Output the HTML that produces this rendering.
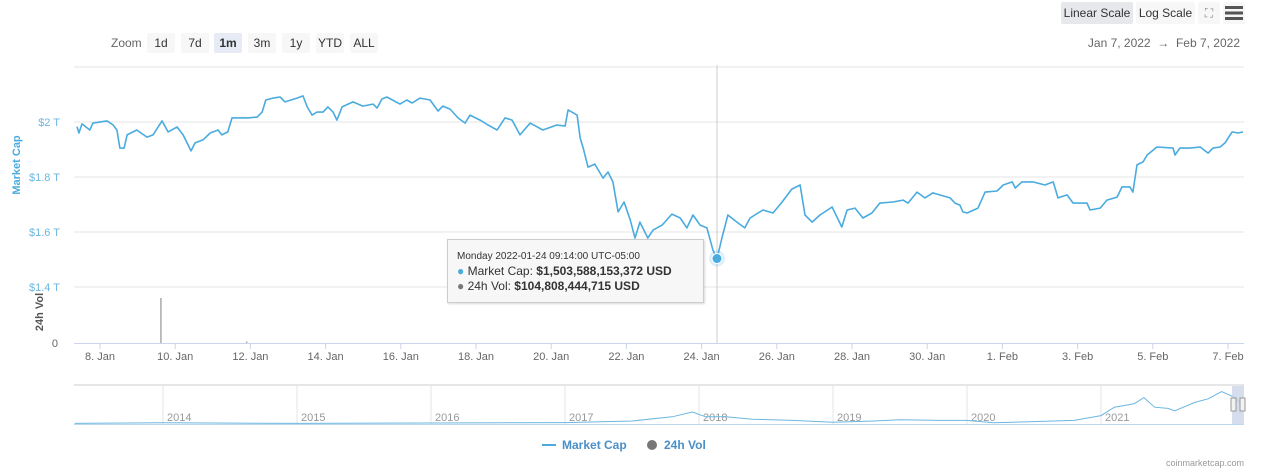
<!DOCTYPE html>
<html><head><meta charset="utf-8"><style>
body{margin:0;background:#fff;font-family:"Liberation Sans",sans-serif;}
#wrap{position:relative;width:1280px;height:475px;overflow:hidden;}
.btn{position:absolute;top:33px;height:20px;line-height:20px;font-size:12px;color:#333;background:#f7f7f7;text-align:center;border-radius:2px;}
.tb{position:absolute;top:2px;height:22px;line-height:22px;font-size:12px;color:#333;background:#f7f7f7;text-align:center;border-radius:2px;}
</style></head><body><div id="wrap">
<div style="position:absolute;left:111px;top:33px;line-height:20px;font-size:12px;color:#666">Zoom</div>
<div class="btn" style="left:147px;width:28px">1d</div>
<div class="btn" style="left:181px;width:28px">7d</div>
<div class="btn" style="left:214px;width:28px;background:#e6ebf5;font-weight:bold">1m</div>
<div class="btn" style="left:248px;width:28px">3m</div>
<div class="btn" style="left:282px;width:28px">1y</div>
<div class="btn" style="left:316px;width:28px">YTD</div>
<div class="btn" style="left:350px;width:28px">ALL</div>
<div style="position:absolute;right:40px;top:33px;line-height:20px;font-size:12px;color:#666">Jan 7, 2022 &nbsp;→&nbsp; Feb 7, 2022</div>
<div class="tb" style="left:1061px;width:72px;background:#e6e8ec">Linear Scale</div>
<div class="tb" style="left:1136px;width:59px">Log Scale</div>
<div class="tb" style="left:1198px;width:22px;color:#888">⛶</div>
<div class="tb" style="left:1223px;width:22px"><svg width="18" height="14" style="margin-top:4px"><rect y="0" width="18" height="3" fill="#555"/><rect y="5.5" width="18" height="3" fill="#555"/><rect y="11" width="18" height="3" fill="#555"/></svg></div>
<svg id="svg" width="1280" height="475" style="position:absolute;left:0;top:0;pointer-events:none" font-family="Liberation Sans, sans-serif"></svg>
<div style="position:absolute;left:447px;top:239px;width:255px;height:62px;background:#f7f7f7;border:1px solid #ccc;box-shadow:1px 1px 2px rgba(0,0,0,.15);font-size:12px;color:#333">
<div style="position:absolute;left:9px;top:11px;font-size:10px">Monday 2022-01-24 09:14:00 UTC-05:00</div>
<div style="position:absolute;left:9px;top:24px"><span style="color:#4aabdf">●</span> Market Cap: <b>$1,503,588,153,372 USD</b></div>
<div style="position:absolute;left:9px;top:39px"><span style="color:#777">●</span> 24h Vol: <b>$104,808,444,715 USD</b></div>
</div>
</div>
<script>
const times=[0.388,0.44,0.52,0.73,0.81,1.19,1.35,1.45,1.53,1.64,1.72,1.98,2.25,2.41,2.65,2.81,3.05,3.21,3.42,3.53,3.74,3.93,4.14,4.24,4.40,4.51,4.64,4.91,5.18,5.31,5.41,5.60,5.79,5.92,6.24,6.40,6.51,6.64,6.77,6.93,7.06,7.20,7.30,7.44,7.73,7.99,8.26,8.37,8.50,8.63,8.98,9.16,9.30,9.51,9.78,9.99,10.12,10.31,10.52,10.71,10.84,11.11,11.32,11.56,11.77,11.96,12.17,12.44,12.78,13.15,13.37,13.45,13.69,13.77,13.85,13.98,14.16,14.38,14.51,14.64,14.78,14.94,15.10,15.23,15.36,15.57,15.71,15.95,16.21,16.43,16.61,16.77,16.96,17.14,17.30,17.41,17.54,17.70,17.94,18.15,18.29,18.63,18.90,19.14,19.40,19.62,19.75,19.94,20.15,20.47,20.73,20.87,21.08,21.29,21.53,21.74,22.09,22.36,22.49,22.73,22.94,23.15,23.61,23.74,23.87,23.95,24.06,24.35,24.54,24.86,25.02,25.26,25.34,25.52,25.81,26.13,26.35,26.48,26.72,26.88,27.25,27.33,27.60,27.78,28.05,28.18,28.39,28.47,28.58,28.74,28.85,29.11,29.54,29.59,29.72,29.99,30.26,30.47,30.60,30.79,30.92,31.11,31.27,31.40];
const marketCap=[1.983,1.960,1.993,1.971,1.996,2.004,1.989,1.971,1.905,1.905,1.953,1.971,1.945,1.953,2.004,1.964,1.982,1.953,1.895,1.924,1.935,1.960,1.971,1.953,1.964,2.015,2.015,2.015,2.018,2.036,2.080,2.087,2.091,2.073,2.087,2.095,2.055,2.025,2.036,2.036,2.055,2.036,2.007,2.055,2.073,2.058,2.065,2.051,2.084,2.091,2.065,2.080,2.069,2.087,2.080,2.040,2.058,2.047,2.015,1.996,2.025,2.007,1.989,1.971,2.015,2.007,1.953,1.996,1.971,1.989,1.985,2.044,2.025,1.942,1.905,1.836,1.847,1.796,1.818,1.782,1.673,1.709,1.644,1.578,1.636,1.578,1.607,1.625,1.665,1.651,1.615,1.662,1.625,1.615,1.535,1.502,1.578,1.662,1.636,1.615,1.651,1.680,1.669,1.709,1.756,1.771,1.662,1.636,1.662,1.691,1.618,1.680,1.687,1.651,1.669,1.705,1.709,1.716,1.705,1.745,1.724,1.742,1.724,1.705,1.698,1.673,1.669,1.687,1.745,1.749,1.771,1.782,1.760,1.782,1.782,1.771,1.782,1.724,1.735,1.705,1.705,1.680,1.687,1.716,1.727,1.764,1.764,1.745,1.844,1.855,1.880,1.909,1.905,1.880,1.905,1.905,1.909,1.887,1.905,1.909,1.924,1.964,1.960,1.964];
const volTimes=[2.62,4.90];
const volValues=[600,20];
const yTicks=[1.4,1.6,1.8,2.0,2.2];
const yTickLabels=["$1.4 T","$1.6 T","$1.8 T","$2 T",""];
const xTickDays=[1,3,5,7,9,11,13,15,17,19,21,23,25,27,29,31];
const xTickLabels=["8. Jan","10. Jan","12. Jan","14. Jan","16. Jan","18. Jan","20. Jan","22. Jan","24. Jan","26. Jan","28. Jan","30. Jan","1. Feb","3. Feb","5. Feb","7. Feb"];
const navYearLabels=["2014","2015","2016","2017","2018","2019","2020","2021"];
const navYearValues=[2014,2015,2016,2017,2018,2019,2020,2021];
const navTimes=[2013.34,2014,2015,2016,2017,2017.5,2017.8,2017.95,2018.05,2018.2,2018.4,2018.7,2019,2019.3,2019.5,2019.8,2020.0,2020.2,2020.5,2020.8,2021.0,2021.1,2021.25,2021.32,2021.4,2021.5,2021.55,2021.7,2021.8,2021.9,2022.0,2022.05];
const navValues=[0.05,0.1,0.05,0.08,0.12,0.25,0.6,1.0,0.6,0.6,0.4,0.3,0.15,0.25,0.35,0.3,0.3,0.1,0.2,0.3,0.7,1.4,1.7,2.2,1.4,1.3,1.1,1.8,2.1,2.7,2.2,1.6];
const ns="http://www.w3.org/2000/svg";
const svg=document.getElementById('svg');
function mk(t,a,p){const e=document.createElementNS(ns,t);for(const k in a)e.setAttribute(k,a[k]);(p||svg).appendChild(e);return e;}
const L=74,R=1244;
const xS=t=>100+(t-1)*37.6;
const yS=v=>122+(2-v)*275;
const vS=v=>343-v*45/600;
yTicks.forEach((v,i)=>{
 const g=mk('line',{x1:L,x2:R,y1:yS(v),y2:yS(v),stroke:'#e6e6e6','stroke-width':1});
 
 
 if(yTickLabels[i]){const t=mk('text',{x:60,y:yS(v)+4,'text-anchor':'end','font-size':11,fill:'#6cb6e0'});t.textContent=yTickLabels[i];
 
 }
});
let yt=mk('text',{x:20,y:165,'text-anchor':'middle','font-size':11,fill:'#4aabdf','font-weight':'bold',transform:'rotate(-90 20 165)'});yt.textContent='Market Cap';


let vt=mk('text',{x:43,y:312,'text-anchor':'middle','font-size':11,fill:'#555','font-weight':'bold',transform:'rotate(-90 43 312)'});vt.textContent='24h Vol';


let z=mk('text',{x:58,y:347,'text-anchor':'end','font-size':11,fill:'#666'});z.textContent='0';


mk('line',{x1:L,x2:R,y1:343.5,y2:343.5,stroke:'#ccd6eb'});
xTickDays.forEach((d,i)=>{
 const x=xS(d);
 mk('line',{x1:x,x2:x,y1:343,y2:349,stroke:'#ccd6eb'});
 const t=mk('text',{x:x,y:360,'text-anchor':'middle','font-size':11,fill:'#666'});t.textContent=xTickLabels[i];
 
 
});
volTimes.forEach((t,i)=>{
 const b=mk('rect',{x:xS(t)-0.75,y:vS(volValues[i]),width:1.5,height:343-vS(volValues[i]),fill:'#aaa'});
 
 
});
mk('line',{x1:717,x2:717,y1:65,y2:343,stroke:'#ccc'});
const p=mk('path',{d:times.map((t,i)=>(i?'L':'M')+xS(t).toFixed(1)+','+yS(marketCap[i]).toFixed(1)).join(''),fill:'none',stroke:'#4aabdf','stroke-width':1.6,'stroke-linejoin':'round'});


mk('circle',{cx:717,cy:yS(1.5036),r:8,fill:'#4aabdf','fill-opacity':0.2});
const hp=mk('circle',{cx:717,cy:yS(1.5036),r:5,fill:'#4aabdf',stroke:'#fff','stroke-width':1});


// navigator
const nx=y=>163+(y-2014)*134, ny=v=>424-v*12;
mk('line',{x1:L,x2:R,y1:385,y2:385,stroke:'#ccc'});
navYearValues.forEach((y,i)=>{mk('line',{x1:nx(y),x2:nx(y),y1:385,y2:424,stroke:'#e6e6e6'});
 const t=mk('text',{x:nx(y)+4,y:421,'font-size':11,fill:'#999'});t.textContent=navYearLabels[i];
 
 });
const np=mk('path',{d:navTimes.map((t,i)=>(i?'L':'M')+nx(t).toFixed(1)+','+ny(navValues[i]).toFixed(1)).join(''),fill:'none',stroke:'#6cb6e0','stroke-width':1});


mk('line',{x1:L,x2:R,y1:424.5,y2:424.5,stroke:'#bcd8ee'});
const nw=mk('rect',{x:1232,y:386,width:12,height:38,fill:'#ccd6e8','fill-opacity':0.8});


mk('rect',{x:1231,y:398,width:5,height:13,fill:'#f2f2f2',stroke:'#999'});
mk('rect',{x:1240,y:398,width:5,height:13,fill:'#f2f2f2',stroke:'#999'});
mk('line',{x1:542,x2:556,y1:445,y2:445,stroke:'#4aabdf','stroke-width':2});
let lt=mk('text',{x:562,y:449,'font-size':12,fill:'#4a8fc7','font-weight':'bold'});lt.textContent='Market Cap';


mk('circle',{cx:652,cy:445,r:5,fill:'#777'});
let lv=mk('text',{x:664,y:449,'font-size':12,fill:'#4a8fc7','font-weight':'bold'});lv.textContent='24h Vol';


let wm=mk('text',{x:1244,y:466,'text-anchor':'end','font-size':9,fill:'#999'});wm.textContent='coinmarketcap.com';


</script></body></html>
